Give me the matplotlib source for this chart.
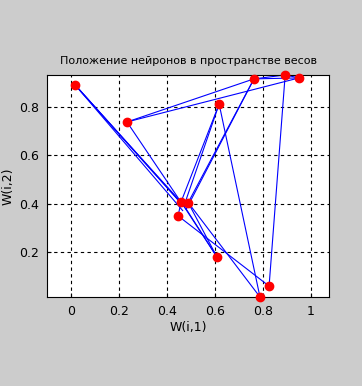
import matplotlib
matplotlib.use("Agg")
import matplotlib.pyplot as plt
import numpy as np

# neuron weights W(i,1), W(i,2); last three sit hidden inside the central cluster
w1 = [0.017, 0.233, 0.617, 0.762, 0.892, 0.950, 0.458, 0.488, 0.446, 0.608, 0.825, 0.787, 0.470, 0.480, 0.465]
w2 = [0.891, 0.738, 0.812, 0.916, 0.932, 0.920, 0.407, 0.405, 0.350, 0.180, 0.060, 0.015, 0.390, 0.378, 0.372]

# neighbour links between neurons (indices into w1/w2)
links = [(0, 6), (0, 12), (0, 13), (0, 14),
         (1, 3), (1, 5), (1, 6),
         (2, 6), (2, 12), (2, 11),
         (3, 7), (3, 13), (3, 4), (3, 5),
         (4, 5), (4, 10),
         (6, 8), (8, 10),
         (7, 9), (12, 9), (13, 9),
         (7, 11)]

W = np.column_stack([w1, w2])

fig = plt.figure(figsize=(3.62, 3.86), dpi=100, facecolor="#cccccc")
ax = fig.add_axes([0.130, 0.2306, 0.779, 0.5751])
ax.set_facecolor("white")

for i, j in links:
    ax.plot(W[[i, j], 0], W[[i, j], 1], color="#0000ff", lw=0.8, zorder=2)
ax.plot(W[:12, 0], W[:12, 1], "o", color="#ff0000", ms=6, mec="#ff0000", zorder=3, clip_on=False)

# tight y, equal aspect in x (like axis equal)
ymin, ymax = W[:, 1].min(), W[:, 1].max()
box_w = 0.779 * 362
box_h = 0.5751 * 386
xr = (ymax - ymin) * box_w / box_h * 242 / 240
xc = 0.4875
ax.set_ylim(ymin, ymax)
ax.set_xlim(xc - xr / 2, xc + xr / 2)

ax.set_xticks([0, 0.2, 0.4, 0.6, 0.8, 1])
ax.set_xticklabels(["0", "0.2", "0.4", "0.6", "0.8", "1"])
ax.set_yticks([0.2, 0.4, 0.6, 0.8])
ax.tick_params(direction="in", length=3, labelsize=9, colors="black", pad=6)
ax.grid(True, color="black", linestyle=(0, (3, 3)), linewidth=0.8)
ax.set_axisbelow(True)
for s in ax.spines.values():
    s.set_linewidth(0.8)

ax.set_title("Положение нейронов в пространстве весов", fontsize=8, pad=8)
ax.set_xlabel("W(i,1)", fontsize=9, labelpad=2)
ax.set_ylabel("W(i,2)", fontsize=9, labelpad=3)

fig.savefig("out.png", dpi=100, facecolor=fig.get_facecolor())
